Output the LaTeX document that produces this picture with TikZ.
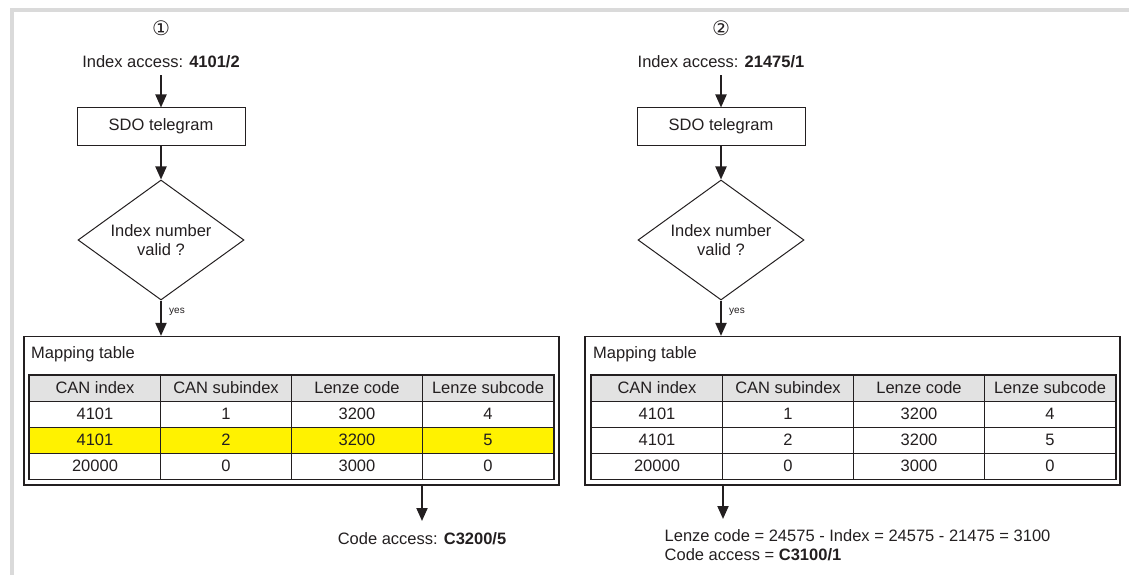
\documentclass[tikz,border=0pt]{standalone}
\usepackage{fontspec}
\setmainfont{Liberation Sans}
\newfontfamily\circfont{DejaVu Sans}
\usepackage{xcolor}
\definecolor{FrameGray}{RGB}{218,218,218}
\definecolor{HeadGray}{RGB}{226,226,226}
\definecolor{MarkYellow}{RGB}{255,242,0}
\definecolor{InkBlack}{RGB}{35,31,32}
\usetikzlibrary{
    arrows.meta,
    positioning,
    shapes.geometric
}
\tikzset{
    flowtext/.style={
        font=\fontsize{16.5}{19.6}\selectfont,
        text=InkBlack,
        inner sep=0pt
    },
    yestext/.style={
        font=\fontsize{10}{12}\selectfont,
        text=InkBlack,
        inner sep=0pt
    },
    circtext/.style={
        font=\circfont\fontsize{20}{20}\selectfont,
        text=InkBlack,
        inner sep=0pt
    },
    stepbox/.style={
        flowtext,
        draw=InkBlack,
        line width=1pt,
        minimum width=168pt,
        minimum height=37pt
    },
    decision/.style={
        flowtext,
        diamond,
        draw=InkBlack,
        line width=1pt,
        aspect=1.38,
        minimum width=166pt,
        minimum height=120pt,
        align=center
    },
    tablebox/.style={
        draw=InkBlack,
        line width=1.2pt,
        minimum width=535pt,
        minimum height=148.5pt,
        inner sep=0pt
    },
    tablecell/.style={
        flowtext,
        draw=InkBlack,
        line width=1pt,
        minimum width=131pt,
        minimum height=26pt,
        anchor=north west
    },
    flowarrow/.style={
        -{Triangle[length=13pt,width=11pt]},
        line width=2pt,
        InkBlack
    }
}

\begin{document}
\begin{tikzpicture}[x=1pt,y=-1pt]
%
    \useasboundingbox (0,0) rectangle (1129,575);
%
    \draw[
        FrameGray,
        line width=4pt
    ]
    (12,575) -- (12,10) -- (1129,10);
%
% left: index access 4101/2
    \node[circtext] (numA) at (161,28) {①};
    \node[flowtext] (accA) at (161,62) {Index access: \textbf{4101/2}};
    \node[stepbox] (sdoA) at (161,126.5) {SDO telegram};
    \node[decision] (validA) at (161,240) {Index number\\valid ?};
    \node[yestext, anchor=west] (yesA) at (169,312) {yes};
    \node[tablebox] (mapA) at (291.5,410.75) {};
    \node[flowtext, anchor=west] (mapnameA) at (31,354) {Mapping table};
    \coordinate (outA) at (422,521);
    \node[flowtext, anchor=base] (codeA) at (422,544) {Code access: \textbf{C3200/5}};
%
% right: index access 21475/1
    \node[circtext] (numB) at (721,28) {②};
    \node[flowtext] (accB) at (721,62) {Index access: \textbf{21475/1}};
    \node[stepbox] (sdoB) at (721,126.5) {SDO telegram};
    \node[decision] (validB) at (721,240) {Index number\\valid ?};
    \node[yestext, anchor=west] (yesB) at (729,312) {yes};
    \node[tablebox] (mapB) at (852.5,410.75) {};
    \node[flowtext, anchor=west] (mapnameB) at (593,354) {Mapping table};
    \coordinate (outB) at (723,519);
    \node[flowtext, anchor=base west] (calcB) at (664.5,541) {Lenze code = 24575 - Index = 24575 - 21475 = 3100};
    \node[flowtext, anchor=base west] (codeB) at (664.5,560.6) {Code access = \textbf{C3100/1}};
%
% mapping tables
    \foreach \side/\dx/\hl in {A/0/MarkYellow,B/562/white} {
        \foreach \head [count=\c from 0] in {CAN index,CAN subindex,Lenze code,Lenze subcode}
            \node[tablecell, fill=HeadGray] (cell\side0\c) at (29+\dx+131*\c,374.5) {\head};
        \foreach \r/\tint/\va/\vb/\vc/\vd in {1/white/4101/1/3200/4,2/\hl/4101/2/3200/5,3/white/20000/0/3000/0} {
            \foreach \v [count=\c from 0] in {\va,\vb,\vc,\vd}
                \node[tablecell, fill=\tint] (cell\side\r\c) at (29+\dx+131*\c,374.5+26*\r) {\v};
        }
        \draw[
            InkBlack,
            line width=1.4pt
        ]
        (cell\side00.north west) rectangle (cell\side33.south east);
    }
%
% connectors
    \draw[flowarrow, shorten <=7pt] (accA) -- (sdoA);
    \draw[flowarrow] (sdoA) -- (validA);
    \draw[flowarrow] (validA) -- (validA.south |- mapA.north);
    \draw[flowarrow] (outA |- mapA.south) -- (outA);
%
    \draw[flowarrow, shorten <=7pt] (accB) -- (sdoB);
    \draw[flowarrow] (sdoB) -- (validB);
    \draw[flowarrow] (validB) -- (validB.south |- mapB.north);
    \draw[flowarrow] (outB |- mapB.south) -- (outB);
%
\end{tikzpicture}
\end{document}
